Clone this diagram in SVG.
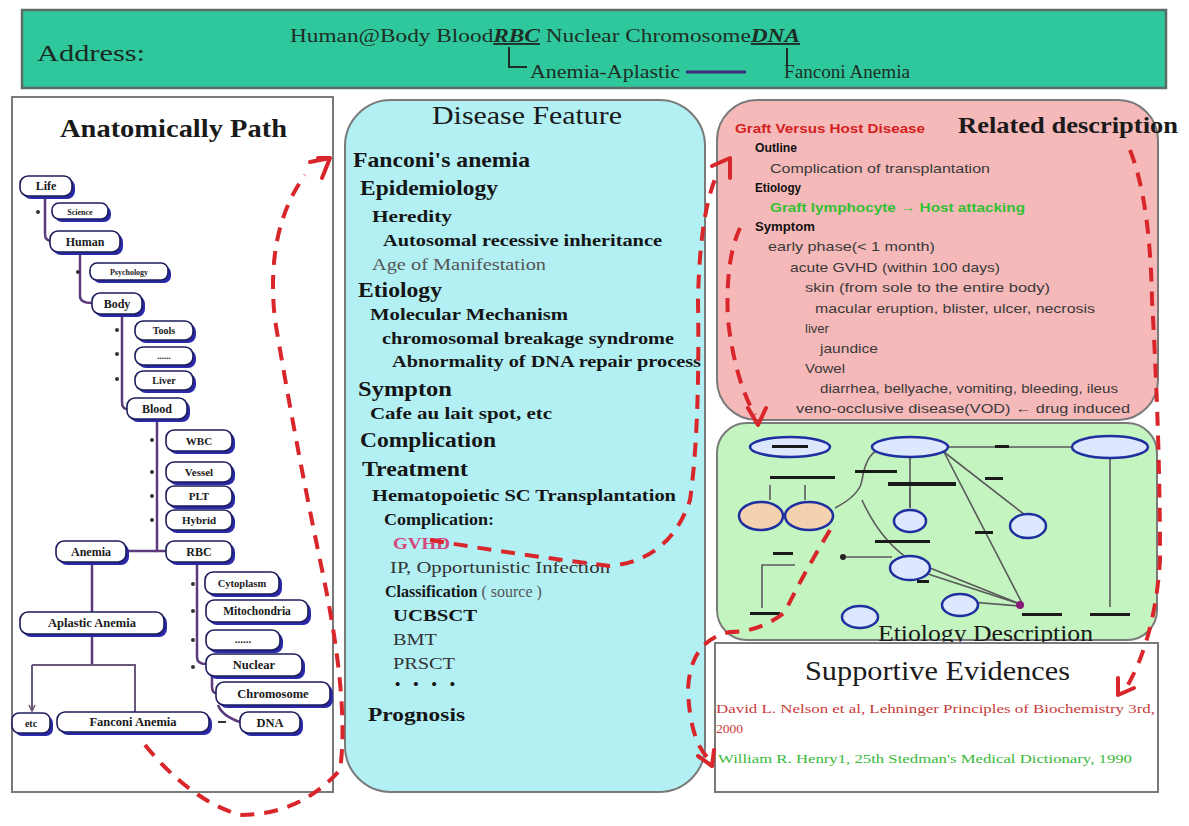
<svg xmlns="http://www.w3.org/2000/svg" width="1189" height="826" viewBox="0 0 1189 826">
  <defs>
    <style>
      .serif { font-family: "Liberation Serif", "Times New Roman", serif; }
      .sans { font-family: "Liberation Sans", Arial, sans-serif; }
      .panel { stroke: #7a7a7a; stroke-width: 2; }
      .tbox { fill: #ffffff; stroke: #1c1c5c; stroke-width: 1.6; }
      .tshadow { fill: #2a2aa8; }
      .tlabel { font-family: "Liberation Serif", "Times New Roman", serif; font-weight: bold; fill: #1a1a1a; text-anchor: middle; }
      .tline { fill: none; stroke: #5b3b7b; stroke-width: 2.5; }
      .dot { fill: #333; }
      .h1 { font-size: 21px; font-weight: bold; fill: #151515; }
      .h2 { font-size: 17px; font-weight: bold; fill: #151515; }
      .h3 { font-size: 17px; font-weight: bold; fill: #151515; }
      .nrm { font-size: 16px; fill: #333; }
      .rd { font-size: 13px; fill: #3a3a3a; }
      .rdb { font-size: 13px; font-weight: bold; fill: #111; }
      .flow { fill: none; stroke: #d8262b; stroke-width: 4; stroke-dasharray: 14 10; }
      .head { fill: none; stroke: #d8262b; stroke-width: 4; stroke-linecap: round; stroke-linejoin: round; }
      .ell { fill: #dde8ff; stroke: #1f2f9f; stroke-width: 2.5; }
      .ellp { fill: #f4d2b0; stroke: #1f2f9f; stroke-width: 2.5; }
      .gl { fill: none; stroke: #5a5a5a; stroke-width: 1.6; }
      .bar { fill: #1a1a1a; }
    </style>
  </defs>

  <rect x="0" y="0" width="1189" height="826" fill="#ffffff"/>

  <!-- address banner -->
  <g id="address">
    <rect x="22" y="10" width="1144" height="78" fill="#2fc89c" stroke="#5d6b66" stroke-width="2.5"/>
    <text x="37" y="61" class="serif" font-size="24" fill="#1a2a22" textLength="108" lengthAdjust="spacingAndGlyphs">Address:</text>
    <text x="290" y="42" class="serif" font-size="19" fill="#1e2e26" textLength="510" lengthAdjust="spacingAndGlyphs">Human@Body Blood<tspan font-style="italic" font-weight="bold" text-decoration="underline">RBC</tspan> Nuclear Chromosome<tspan font-style="italic" font-weight="bold" text-decoration="underline">DNA</tspan></text>
    <path d="M509 47 V67 H527" fill="none" stroke="#1e2e26" stroke-width="2"/>
    <text x="530" y="78" class="serif" font-size="18" fill="#1e2e26" textLength="150" lengthAdjust="spacingAndGlyphs">Anemia-Aplastic</text>
    <line x1="686" y1="72" x2="746" y2="72" stroke="#3a2a7a" stroke-width="3"/>
    <line x1="787" y1="48" x2="787" y2="66" stroke="#1e2e26" stroke-width="2"/>
    <text x="784" y="78" class="serif" font-size="18" fill="#1e2e26" textLength="126" lengthAdjust="spacingAndGlyphs">Fanconi Anemia</text>
  </g>

  <!-- anatomical tree panel -->
  <g id="anatomical-path">
    <rect x="12" y="97" width="321" height="695" fill="#ffffff" class="panel"/>
    <text x="60" y="137" class="serif" font-size="25" font-weight="bold" fill="#1a1a1a" textLength="227" lengthAdjust="spacingAndGlyphs">Anatomically Path</text>
  </g>

  <g id="tree-links">
    <path class="tline" d="M45 196 V234 Q45 241 52 241"/>
    <path class="tline" d="M80 252 V296 Q80 303 92 303"/>
    <path class="tline" d="M122 314 V402 Q122 409 127 409"/>
    <path class="tline" d="M157 420 V551 H166"/>
    <path class="tline" d="M157 551 H126"/>
    <path class="tline" d="M197 562 V657 Q197 664 206 664"/>
    <path class="tline" d="M212 675 V686 Q212 693 216 693"/>
    <path class="tline" d="M218 705 Q222 716 240 722"/>
    <path class="tline" d="M92 562 V612"/>
    <path class="tline" d="M92 634 V665"/>
    <path d="M32 665 H135 V712 M32 665 V711" fill="none" stroke="#6a5a7a" stroke-width="2"/>
    <path d="M29 705 L32 711 L35 705" fill="none" stroke="#6a5a7a" stroke-width="1.5"/>
    <circle class="dot" cx="38" cy="212" r="2"/>
    <circle class="dot" cx="78" cy="272" r="2"/>
    <circle class="dot" cx="117" cy="330" r="2"/>
    <circle class="dot" cx="117" cy="354" r="2"/>
    <circle class="dot" cx="117" cy="379" r="2"/>
    <circle class="dot" cx="152" cy="440" r="2"/>
    <circle class="dot" cx="152" cy="472" r="2"/>
    <circle class="dot" cx="152" cy="496" r="2"/>
    <circle class="dot" cx="152" cy="520" r="2"/>
    <circle class="dot" cx="193" cy="584" r="2"/>
    <circle class="dot" cx="193" cy="611" r="2"/>
    <circle class="dot" cx="193" cy="640" r="2"/>
    <circle class="dot" cx="193" cy="667" r="2"/>
    <line x1="218" y1="722" x2="226" y2="722" stroke="#333" stroke-width="2"/>
  </g>

  <g id="n-life"><rect class="tshadow" x="23" y="179" width="52" height="20" rx="8"/><rect class="tbox" x="20" y="176" width="52" height="20" rx="8"/><text class="tlabel" x="46" y="190" font-size="12">Life</text></g>
  <g id="n-science"><rect class="tshadow" x="55" y="206" width="56" height="16" rx="7"/><rect class="tbox" x="52" y="203" width="56" height="16" rx="7"/><text class="tlabel" x="80" y="215" font-size="8">Science</text></g>
  <g id="n-human"><rect class="tshadow" x="53" y="234" width="70" height="21" rx="8"/><rect class="tbox" x="50" y="231" width="70" height="21" rx="8"/><text class="tlabel" x="85" y="246" font-size="12">Human</text></g>
  <g id="n-psychology"><rect class="tshadow" x="93" y="266" width="78" height="17" rx="7"/><rect class="tbox" x="90" y="263" width="78" height="17" rx="7"/><text class="tlabel" x="129" y="275" font-size="8">Psychology</text></g>
  <g id="n-body"><rect class="tshadow" x="95" y="296" width="50" height="21" rx="8"/><rect class="tbox" x="92" y="293" width="50" height="21" rx="8"/><text class="tlabel" x="117" y="308" font-size="12">Body</text></g>
  <g id="n-tools"><rect class="tshadow" x="138" y="324" width="58" height="19" rx="8"/><rect class="tbox" x="135" y="321" width="58" height="19" rx="8"/><text class="tlabel" x="164" y="334" font-size="10">Tools</text></g>
  <g id="n-blank"><rect class="tshadow" x="138" y="350" width="58" height="18" rx="8"/><rect class="tbox" x="135" y="347" width="58" height="18" rx="8"/><text class="tlabel" x="164" y="359" font-size="9" fill="#c8c8c8">......</text></g>
  <g id="n-liver"><rect class="tshadow" x="138" y="374" width="58" height="19" rx="8"/><rect class="tbox" x="135" y="371" width="58" height="19" rx="8"/><text class="tlabel" x="164" y="384" font-size="10">Liver</text></g>
  <g id="n-blood"><rect class="tshadow" x="130" y="401" width="60" height="21" rx="8"/><rect class="tbox" x="127" y="398" width="60" height="21" rx="8"/><text class="tlabel" x="157" y="413" font-size="12">Blood</text></g>
  <g id="n-wbc"><rect class="tshadow" x="169" y="433" width="66" height="21" rx="8"/><rect class="tbox" x="166" y="430" width="66" height="21" rx="8"/><text class="tlabel" x="199" y="445" font-size="11">WBC</text></g>
  <g id="n-vessel"><rect class="tshadow" x="169" y="465" width="66" height="20" rx="8"/><rect class="tbox" x="166" y="462" width="66" height="20" rx="8"/><text class="tlabel" x="199" y="476" font-size="11">Vessel</text></g>
  <g id="n-plt"><rect class="tshadow" x="169" y="489" width="66" height="20" rx="8"/><rect class="tbox" x="166" y="486" width="66" height="20" rx="8"/><text class="tlabel" x="199" y="500" font-size="11">PLT</text></g>
  <g id="n-hybrid"><rect class="tshadow" x="169" y="513" width="66" height="20" rx="8"/><rect class="tbox" x="166" y="510" width="66" height="20" rx="8"/><text class="tlabel" x="199" y="524" font-size="11">Hybrid</text></g>
  <g id="n-rbc"><rect class="tshadow" x="169" y="544" width="66" height="21" rx="8"/><rect class="tbox" x="166" y="541" width="66" height="21" rx="8"/><text class="tlabel" x="199" y="556" font-size="12">RBC</text></g>
  <g id="n-anemia"><rect class="tshadow" x="59" y="544" width="70" height="21" rx="8"/><rect class="tbox" x="56" y="541" width="70" height="21" rx="8"/><text class="tlabel" x="91" y="556" font-size="12">Anemia</text></g>
  <g id="n-cytoplasm"><rect class="tshadow" x="208" y="575" width="74" height="22" rx="8"/><rect class="tbox" x="205" y="572" width="74" height="22" rx="8"/><text class="tlabel" x="242" y="587" font-size="10.5">Cytoplasm</text></g>
  <g id="n-mitochondria"><rect class="tshadow" x="209" y="603" width="102" height="22" rx="8"/><rect class="tbox" x="206" y="600" width="102" height="22" rx="8"/><text class="tlabel" x="257" y="615" font-size="11.5">Mitochondria</text></g>
  <g id="n-dots"><rect class="tshadow" x="209" y="633" width="74" height="20" rx="8"/><rect class="tbox" x="206" y="630" width="74" height="20" rx="8"/><text class="tlabel" x="243" y="643" font-size="11">......</text></g>
  <g id="n-nuclear"><rect class="tshadow" x="209" y="657" width="96" height="22" rx="8"/><rect class="tbox" x="206" y="654" width="96" height="22" rx="8"/><text class="tlabel" x="254" y="669" font-size="12.5">Nuclear</text></g>
  <g id="n-chromosome"><rect class="tshadow" x="219" y="685" width="114" height="23" rx="8"/><rect class="tbox" x="216" y="682" width="114" height="23" rx="8"/><text class="tlabel" x="273" y="698" font-size="12.5">Chromosome</text></g>
  <g id="n-dna"><rect class="tshadow" x="243" y="715" width="60" height="21" rx="8"/><rect class="tbox" x="240" y="712" width="60" height="21" rx="8"/><text class="tlabel" x="270" y="727" font-size="12.5">DNA</text></g>
  <g id="n-aplastic"><rect class="tshadow" x="23" y="615" width="144" height="22" rx="8"/><rect class="tbox" x="20" y="612" width="144" height="22" rx="8"/><text class="tlabel" x="92" y="627" font-size="12.5">Aplastic Anemia</text></g>
  <g id="n-etc"><rect class="tshadow" x="15" y="716" width="38" height="20" rx="7"/><rect class="tbox" x="12" y="713" width="38" height="20" rx="7"/><text class="tlabel" x="31" y="727" font-size="10">etc</text></g>
  <g id="n-fanconi"><rect class="tshadow" x="60" y="715" width="152" height="20" rx="8"/><rect class="tbox" x="57" y="712" width="152" height="20" rx="8" fill="#c8f3f8"/><text class="tlabel" x="133" y="726" font-size="12.5">Fanconi Anemia</text></g>

  <!-- disease feature panel -->
  <g id="disease-feature" class="serif">
    <rect x="345" y="100" width="360" height="692" rx="46" fill="#b2f0f4" class="panel"/>
    <text x="432" y="124" font-size="25" fill="#1a1a1a" textLength="190" lengthAdjust="spacingAndGlyphs">Disease Feature</text>
    <text x="353" y="167" class="h1" textLength="177" lengthAdjust="spacingAndGlyphs">Fanconi's anemia</text>
    <text x="360" y="195" class="h1" textLength="138" lengthAdjust="spacingAndGlyphs">Epidemiology</text>
    <text x="372" y="222" class="h2" textLength="80" lengthAdjust="spacingAndGlyphs">Heredity</text>
    <text x="383" y="246" class="h3" textLength="279" lengthAdjust="spacingAndGlyphs">Autosomal recessive inheritance</text>
    <text x="372" y="270" font-size="17" fill="#555" textLength="174" lengthAdjust="spacingAndGlyphs">Age of Manifestation</text>
    <text x="358" y="297" class="h1" textLength="84" lengthAdjust="spacingAndGlyphs">Etiology</text>
    <text x="370" y="320" class="h3" textLength="198" lengthAdjust="spacingAndGlyphs">Molecular Mechanism</text>
    <text x="382" y="344" class="h3" textLength="292" lengthAdjust="spacingAndGlyphs">chromosomal breakage syndrome</text>
    <text x="392" y="367" class="h3" textLength="309" lengthAdjust="spacingAndGlyphs">Abnormality of DNA repair process</text>
    <text x="358" y="396" class="h1" textLength="94" lengthAdjust="spacingAndGlyphs">Sympton</text>
    <text x="370" y="419" class="h3" textLength="182" lengthAdjust="spacingAndGlyphs">Cafe au lait spot,  etc</text>
    <text x="360" y="447" class="h1" textLength="136" lengthAdjust="spacingAndGlyphs">Complication</text>
    <text x="362" y="476" class="h1" textLength="106" lengthAdjust="spacingAndGlyphs">Treatment</text>
    <text x="372" y="501" class="h3" textLength="304" lengthAdjust="spacingAndGlyphs">Hematopoietic SC Transplantation</text>
    <text x="384" y="525" font-size="16" font-weight="bold" fill="#151515" textLength="110" lengthAdjust="spacingAndGlyphs">Complication:</text>
    <text x="393" y="549" font-size="16" font-weight="bold" fill="#d4487e" textLength="57" lengthAdjust="spacingAndGlyphs">GVHD</text>
    <text x="390" y="573" class="nrm" textLength="220" lengthAdjust="spacingAndGlyphs">IP, Opportunistic Infection</text>
    <text x="385" y="597" font-size="16" font-weight="bold" fill="#151515">Classification<tspan font-weight="normal" fill="#555"> ( source )</tspan></text>
    <text x="393" y="621" font-size="16" font-weight="bold" fill="#151515" textLength="84" lengthAdjust="spacingAndGlyphs">UCBSCT</text>
    <text x="393" y="645" class="nrm" textLength="44" lengthAdjust="spacingAndGlyphs">BMT</text>
    <text x="393" y="669" class="nrm" textLength="62" lengthAdjust="spacingAndGlyphs">PRSCT</text>
    <text x="395" y="689" font-size="15" font-weight="bold" fill="#151515" letter-spacing="13">••••</text>
    <text x="368" y="721" font-size="19" font-weight="bold" fill="#151515" textLength="97" lengthAdjust="spacingAndGlyphs">Prognosis</text>
  </g>

  <!-- related description panel -->
  <g id="related-description">
    <rect x="717" y="100" width="441" height="320" rx="40" fill="#f6b9b9" class="panel"/>
    <text x="958" y="133" class="serif" font-size="23" font-weight="bold" fill="#1a1a1a" textLength="220" lengthAdjust="spacingAndGlyphs">Related description</text>
    <text x="735" y="133" class="sans" font-size="13" font-weight="bold" fill="#d42020" textLength="190" lengthAdjust="spacingAndGlyphs">Graft Versus Host Disease</text>
    <text x="755" y="152" class="sans rdb" textLength="42" lengthAdjust="spacingAndGlyphs">Outline</text>
    <text x="770" y="173" class="sans rd" textLength="220" lengthAdjust="spacingAndGlyphs">Complication of transplantation</text>
    <text x="755" y="192" class="sans rdb" textLength="46" lengthAdjust="spacingAndGlyphs">Etiology</text>
    <text x="770" y="212" class="sans" font-size="13" font-weight="bold" fill="#33c033" textLength="255" lengthAdjust="spacingAndGlyphs">Graft lymphocyte → Host attacking</text>
    <text x="755" y="231" class="sans rdb" textLength="60" lengthAdjust="spacingAndGlyphs">Symptom</text>
    <text x="768" y="251" class="sans rd" textLength="167" lengthAdjust="spacingAndGlyphs">early phase(&lt; 1 month)</text>
    <text x="790" y="272" class="sans rd" textLength="210" lengthAdjust="spacingAndGlyphs">acute GVHD (within 100 days)</text>
    <text x="805" y="292" class="sans rd" textLength="245" lengthAdjust="spacingAndGlyphs">skin (from sole to the entire body)</text>
    <text x="815" y="313" class="sans rd" textLength="280" lengthAdjust="spacingAndGlyphs">macular eruption, blister, ulcer, necrosis</text>
    <text x="805" y="333" class="sans rd">liver</text>
    <text x="820" y="353" class="sans rd" textLength="58" lengthAdjust="spacingAndGlyphs">jaundice</text>
    <text x="805" y="373" class="sans rd" textLength="40" lengthAdjust="spacingAndGlyphs">Vowel</text>
    <text x="820" y="393" class="sans rd" textLength="298" lengthAdjust="spacingAndGlyphs">diarrhea, bellyache, vomiting, bleeding, ileus</text>
    <text x="796" y="413" class="sans rd" textLength="334" lengthAdjust="spacingAndGlyphs">veno-occlusive disease(VOD)  ←  drug induced</text>
  </g>

  <!-- etiology pathway panel -->
  <g id="etiology-description">
    <rect x="717" y="423" width="440" height="217" rx="30" fill="#c4f4c0" class="panel"/>
    <g id="pathway-links">
      <line class="gl" x1="948" y1="447" x2="1072" y2="447"/>
      <line class="gl" x1="1110" y1="458" x2="1110" y2="607"/>
      <line class="gl" x1="944" y1="452" x2="1022" y2="603"/>
      <line class="gl" x1="944" y1="452" x2="1025" y2="515"/>
      <line class="gl" x1="910" y1="458" x2="910" y2="508"/>
      <path class="gl" d="M878 450 Q866 455 862 480 Q860 495 835 508"/>
      <path class="gl" d="M862 500 Q880 540 910 560 L1020 604"/>
      <line class="gl" x1="928" y1="574" x2="1020" y2="604"/>
      <line class="gl" x1="946" y1="600" x2="1020" y2="606"/>
      <line class="gl" x1="843" y1="557" x2="892" y2="557"/>
      <path class="gl" d="M762 608 V565 H795"/>
      <line class="gl" x1="770" y1="485" x2="770" y2="500"/>
      <line class="gl" x1="805" y1="485" x2="805" y2="500"/>
      <line class="gl" x1="910" y1="488" x2="910" y2="508"/>
    </g>
    <rect class="bar" x="770" y="476" width="65" height="3"/>
    <rect class="bar" x="855" y="470" width="42" height="3"/>
    <rect class="bar" x="888" y="482" width="68" height="4"/>
    <rect class="bar" x="995" y="445" width="14" height="3"/>
    <rect class="bar" x="985" y="477" width="18" height="3"/>
    <rect class="bar" x="975" y="531" width="18" height="3"/>
    <rect class="bar" x="875" y="540" width="55" height="3"/>
    <rect class="bar" x="917" y="580" width="12" height="3"/>
    <rect class="bar" x="773" y="552" width="20" height="3"/>
    <rect class="bar" x="750" y="612" width="30" height="3"/>
    <rect class="bar" x="1022" y="613" width="40" height="3"/>
    <rect class="bar" x="1090" y="613" width="40" height="3"/>
    <circle cx="843" cy="557" r="3" fill="#222"/>
    <circle cx="1020" cy="605" r="4" fill="#8a1a7a"/>
    <ellipse class="ell" cx="790" cy="447" rx="40" ry="10"/>
    <rect class="bar" x="772" y="445" width="36" height="3"/>
    <ellipse class="ell" cx="910" cy="447" rx="38" ry="10"/>
    <ellipse class="ell" cx="1110" cy="447" rx="38" ry="11"/>
    <ellipse class="ellp" cx="761" cy="516" rx="22" ry="14"/>
    <ellipse class="ellp" cx="809" cy="516" rx="24" ry="14"/>
    <ellipse class="ell" cx="910" cy="521" rx="16" ry="11"/>
    <ellipse class="ell" cx="1028" cy="526" rx="18" ry="12"/>
    <ellipse class="ell" cx="910" cy="568" rx="20" ry="12"/>
    <ellipse class="ell" cx="960" cy="605" rx="18" ry="11"/>
    <ellipse class="ell" cx="860" cy="617" rx="18" ry="11"/>
    <text x="878" y="641" class="serif" font-size="23" fill="#1a1a1a" textLength="215" lengthAdjust="spacingAndGlyphs">Etiology  Description</text>
  </g>

  <!-- references panel -->
  <g id="supportive-evidences" class="serif">
    <rect x="715" y="643" width="443" height="149" fill="#ffffff" class="panel"/>
    <text x="805" y="680" font-size="27" fill="#1a1a1a" textLength="265" lengthAdjust="spacingAndGlyphs">Supportive Evidences</text>
    <text x="716" y="713" font-size="13.5" fill="#c83a3a" textLength="439" lengthAdjust="spacingAndGlyphs">David L. Nelson et al, Lehninger Principles of Biochemistry 3rd,</text>
    <text x="716" y="733" font-size="13.5" fill="#c83a3a">2000</text>
    <text x="718" y="763" font-size="13.5" fill="#3cb83c" textLength="414" lengthAdjust="spacingAndGlyphs">William R. Henry1, 25th Stedman's Medical Dictionary, 1990</text>
  </g>

  <!-- dashed cross-reference arrows -->
  <g id="connectors">
    <path class="flow" d="M145 745 Q190 800 240 815 Q300 815 340 770 Q350 700 320 560 Q295 440 275 320 Q265 230 305 175"/>
    <path class="head" d="M310 162 L330 158 L322 178 M318 158 L330 158"/>
    <path class="flow" d="M430 540 Q520 555 610 566 Q670 560 690 500 Q700 430 698 300 Q700 210 718 172"/>
    <path class="head" d="M712 166 L730 158 L730 178"/>
    <path class="flow" d="M740 228 Q725 260 728 320 Q735 380 755 415"/>
    <path class="head" d="M748 408 L758 425 L766 408"/>
    <path class="flow" d="M830 530 Q800 580 785 612 Q760 632 730 632 Q690 640 688 690 Q690 740 708 758"/>
    <path class="head" d="M698 756 L712 766 L714 750"/>
    <path class="flow" d="M1130 150 Q1150 200 1152 300 Q1160 440 1160 560 Q1155 640 1125 690"/>
    <path class="head" d="M1118 678 L1118 695 L1134 688"/>
  </g>
</svg>
